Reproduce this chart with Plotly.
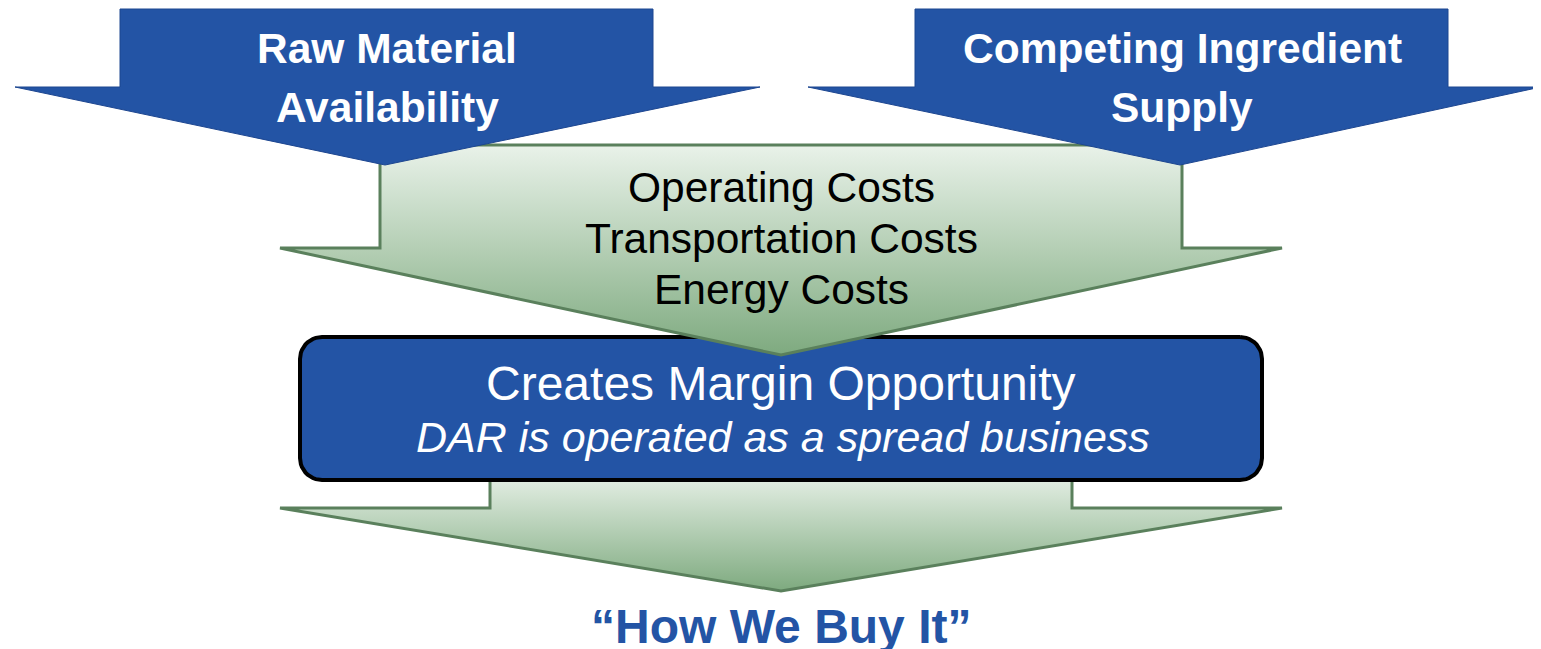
"""Margin drivers diagram rebuilt with plotly shapes and text."""

import numpy as np
import plotly.graph_objects as go

W, H = 1541, 649
PAGE_PAD = 8  # the page body margin pushes the figure 8px right and down

# arrow outlines: shaft left/right, head left/right, top, neck, tip x, tip y
raw_arrow = [120, 653, 15, 760, 9, 87, 385, 165]
supply_arrow = [915, 1448, 808, 1541, 9, 87, 1180, 165]
costs_arrow = [380, 1182, 280, 1282, 145, 248, 781, 355]
buy_arrow = [490, 1072, 280, 1282, 470, 508, 781, 591]

margin_box = [300, 1262, 337, 480, 22]  # x0, x1, y0, y1, corner radius

top_labels = [["Raw Material", "Availability"], ["Competing Ingredient", "Supply"]]
cost_labels = ["Operating Costs", "Transportation Costs", "Energy Costs"]
box_title = "Creates Margin Opportunity"
box_note = "DAR is operated as a spread business"
bottom_label = "\u201cHow We Buy It\u201d"

BLUE = "#2354a5"
GREEN_LINE = "#5a805c"
GREEN_TOP = "#e9f2e9"
GREEN_BOT = "#7eaa7f"
FONT = "Arial, Liberation Sans, sans-serif"


def arrow_path(a):
    sl, sr, hl, hr, top, neck, tx, ty = a
    xs = [sl, sr, sr, hr, tx, hl, sl, sl]
    ys = [top, top, neck, neck, ty, neck, neck, top]
    return xs, ys


def rounded_rect(x0, x1, y0, y1, r):
    xs, ys = [], []
    corners = [(x1 - r, y0 + r, -90, 0), (x1 - r, y1 - r, 0, 90),
               (x0 + r, y1 - r, 90, 180), (x0 + r, y0 + r, 180, 270)]
    for cx, cy, a0, a1 in corners:
        t = np.radians(np.linspace(a0, a1, 12))
        xs += list(cx + r * np.cos(t))
        ys += list(cy + r * np.sin(t))
    xs.append(xs[0])
    ys.append(ys[0])
    return xs, ys


def green_arrow(a):
    xs, ys = arrow_path(a)
    return go.Scatter(
        x=xs, y=ys, mode="lines", fill="toself",
        line={"color": GREEN_LINE, "width": 3},
        fillgradient={"type": "vertical",
                      "colorscale": [[0, GREEN_TOP], [1, GREEN_BOT]],
                      "start": a[4], "stop": a[7]},
        hoverinfo="skip",
    )


def blue_arrow(a):
    xs, ys = arrow_path(a)
    return go.Scatter(
        x=xs, y=ys, mode="lines", fill="toself", fillcolor=BLUE,
        line={"color": "#1d4690", "width": 1}, hoverinfo="skip",
    )


fig = go.Figure()
fig.add_trace(green_arrow(buy_arrow))
bx, by = rounded_rect(*margin_box)
fig.add_trace(go.Scatter(x=bx, y=by, mode="lines", fill="toself", fillcolor=BLUE,
                         line={"color": "#000000", "width": 4}, hoverinfo="skip"))
fig.add_trace(green_arrow(costs_arrow))
fig.add_trace(blue_arrow(raw_arrow))
fig.add_trace(blue_arrow(supply_arrow))


def label(x, y, text, size, color, bold=False, italic=False):
    if bold:
        text = f"<b>{text}</b>"
    if italic:
        text = f"<i>{text}</i>"
    fig.add_annotation(x=x, y=y, text=text, showarrow=False,
                       xanchor="center", yanchor="middle",
                       font={"family": FONT, "size": size, "color": color})


for cx, lines in zip([387, 1182], top_labels):
    label(cx, 48, lines[0], 42.5, "white", bold=True)
    label(cx, 107, lines[1], 42.5, "white", bold=True)
for i, t in enumerate(cost_labels):
    label(781, 187 + 51 * i, t, 42.5, "black")
label(781, 383, box_title, 48, "white")
label(783, 437, box_note, 43, "white", italic=True)
label(781, 626, bottom_label, 48, BLUE, bold=True)

fig.update_layout(
    width=W, height=H,
    margin={"l": 0, "r": 0, "t": 0, "b": 0},
    paper_bgcolor="white", plot_bgcolor="white",
    showlegend=False,
    xaxis={"range": [PAGE_PAD, W + PAGE_PAD], "visible": False, "fixedrange": True},
    yaxis={"range": [H + PAGE_PAD, PAGE_PAD], "visible": False, "fixedrange": True},
)

fig.write_html("out.html")
